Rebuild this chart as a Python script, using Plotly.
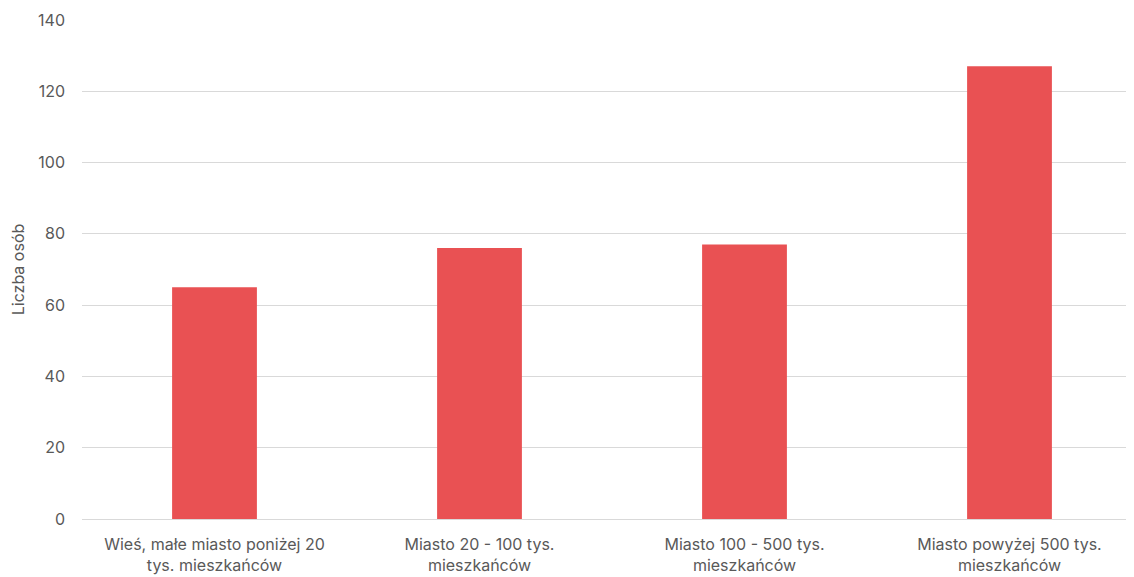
import plotly.graph_objects as go

categories = [
    "Wieś, małe miasto poniżej 20<br>tys. mieszkańców",
    "Miasto 20 - 100 tys.<br>mieszkańców",
    "Miasto 100 - 500 tys.<br>mieszkańców",
    "Miasto powyżej 500 tys.<br>mieszkańców",
]
values = [65, 76, 77, 127]
y_ticks = [0, 20, 40, 60, 80, 100, 120, 140]

fig = go.Figure(go.Bar(
    x=categories, y=values,
    marker=dict(color="#E95153", line=dict(width=0)),
    width=0.32,
))

fig.update_layout(
    width=1134, height=569,
    margin=dict(l=74, r=0, t=12, b=58),
    plot_bgcolor="white", paper_bgcolor="white",
    font=dict(family="Inter, Open Sans, sans-serif", size=16, color="#595959"),
    showlegend=False,
    bargap=0.68,
)
fig.update_xaxes(
    range=[-0.5, 3.5], showgrid=False, showline=False, ticks="",
    ticklabelstandoff=14,
    tickfont=dict(size=16, color="#595959"),
)
fig.update_yaxes(
    range=[0, 140], tickvals=y_ticks, showgrid=True, gridcolor="#D9D9D9", gridwidth=1,
    zeroline=True, zerolinecolor="#D9D9D9", zerolinewidth=1, showline=False,
    ticks="", ticklabelstandoff=16,
    tickfont=dict(size=16, color="#595959"),
    title=dict(text="Liczba osób", font=dict(size=16, color="#595959"), standoff=10),
)

fig.write_html("out.html")
